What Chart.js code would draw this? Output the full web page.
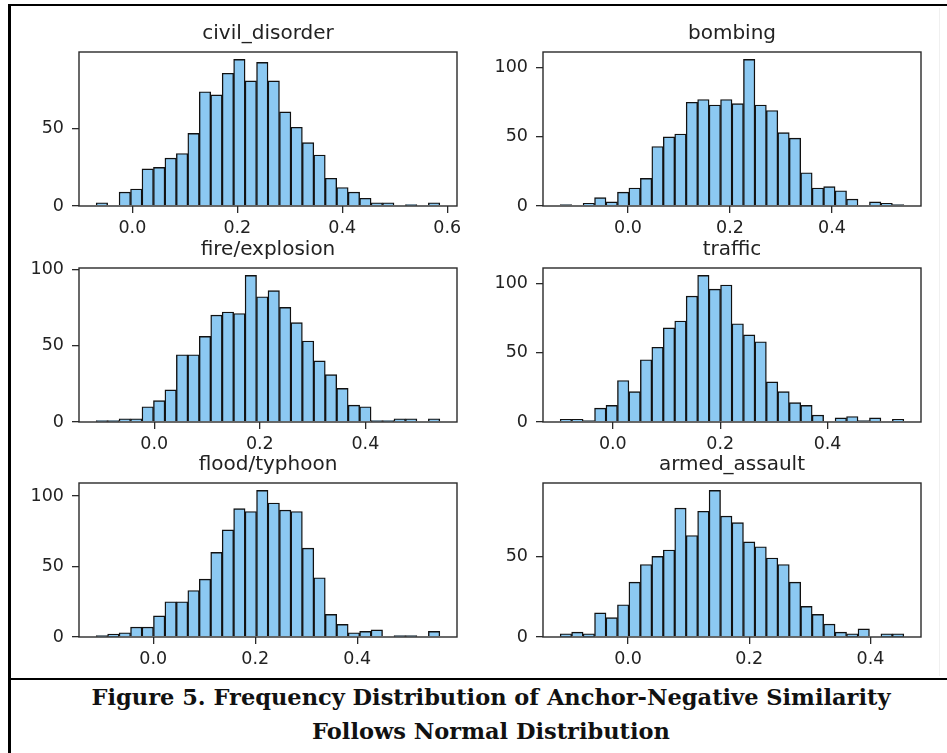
<!DOCTYPE html>
<html>
<head>
<meta charset="utf-8">
<script src="https://cdn.jsdelivr.net/npm/chart.js@4.4.1/dist/chart.umd.min.js"></script>
<style>
  body { margin: 0; background: #fff; width: 947px; height: 753px; overflow: hidden; position: relative; }
  canvas { position: absolute; }
  .rule { position: absolute; background: #000; }
  .caption {
    position: absolute; left: 0; width: 982px; text-align: center;
    font-family: "DejaVu Serif", "Liberation Serif", serif; font-weight: bold;
    font-size: 22.5px; color: #111; white-space: nowrap; line-height: 26px;
  }
</style>
</head>
<body>
<div class="rule" style="left:8px;top:4px;width:939px;height:2px"></div>
<div class="rule" style="left:8px;top:4px;width:2.5px;height:749px"></div>
<div class="rule" style="left:8px;top:678px;width:939px;height:2px"></div>
<div class="rule" style="left:939px;top:8px;width:1px;height:668px;background:#f0f0f0"></div>
<div class="caption" style="top:684px">Figure 5. Frequency Distribution of Anchor-Negative Similarity</div>
<div class="caption" style="top:718px">Follows Normal Distribution</div>

<script>
/* ── Data ──────────────────────────────────────────────────── */

const panelTitles = ["civil_disorder", "bombing", "fire/explosion", "traffic", "flood/typhoon", "armed_assault"];

// counts per bin, 30 bins each
const civilDisorder = [2, 0, 9, 11, 24, 25, 31, 34, 47, 74, 72, 86, 95, 81, 93, 81, 61, 51, 41, 33, 18, 12, 9, 5, 2, 2, 0, 1, 0, 2];
const bombing       = [1, 0, 2, 6, 3, 10, 13, 20, 43, 50, 52, 75, 77, 73, 77, 74, 106, 73, 69, 53, 49, 24, 13, 14, 11, 5, 0, 3, 2, 1];
const fireExplosion = [1, 1, 2, 2, 10, 14, 21, 44, 44, 56, 70, 72, 71, 96, 82, 86, 75, 65, 53, 40, 31, 22, 11, 10, 1, 1, 2, 2, 0, 2];
const traffic       = [2, 2, 1, 10, 12, 30, 22, 45, 54, 68, 73, 91, 106, 96, 99, 71, 63, 58, 29, 22, 14, 12, 5, 0, 3, 4, 1, 3, 0, 2];
const floodTyphoon  = [1, 2, 3, 7, 7, 15, 25, 25, 33, 41, 60, 76, 91, 89, 104, 95, 90, 89, 63, 42, 16, 9, 3, 4, 5, 0, 1, 1, 0, 4];
const armedAssault  = [2, 3, 2, 15, 12, 20, 34, 45, 50, 54, 80, 63, 78, 91, 75, 71, 59, 56, 49, 45, 34, 19, 14, 8, 3, 2, 5, 0, 2, 2];

// similarity range covered by the bins of each panel
const binLo = [-0.069, -0.133, -0.110, -0.098, -0.112, -0.112];
const binHi = [0.586, 0.541, 0.541, 0.542, 0.562, 0.455];

const xTicks = [0.0, 0.2, 0.4, 0.6];
const yTicks = [0, 50, 100];

const panelCounts = [civilDisorder, bombing, fireExplosion, traffic, floodTyphoon, armedAssault];

/* ── Layout ────────────────────────────────────────────────── */

const colLeft = [79, 543];
const rowTop  = [52, 267.5, 483];
const areaW = 378, areaH = 154;
const padL = 70, padT = 50, padR = 14, padB = 40;

const tickFont = { family: "DejaVu Sans", size: 17.5 };

const framePlugin = {
  id: "frame",
  afterDraw(chart) {
    const a = chart.chartArea, ctx = chart.ctx;
    ctx.save();
    ctx.strokeStyle = "#2a2a2a";
    ctx.lineWidth = 1.4;
    ctx.strokeRect(a.left, a.top, a.right - a.left, a.bottom - a.top);
    ctx.restore();
  }
};

function makePanel(i) {
  const counts = panelCounts[i];
  const lo = binLo[i], hi = binHi[i];
  const span = hi - lo;
  const binW = span / counts.length;
  const pts = counts.map((c, k) => ({ x: lo + (k + 0.5) * binW, y: c }));

  const cv = document.createElement("canvas");
  const w = padL + areaW + padR, h = padT + areaH + padB;
  cv.width = w; cv.height = h;
  cv.style.width = w + "px"; cv.style.height = h + "px";
  cv.style.left = (colLeft[i % 2] - padL) + "px";
  cv.style.top = (rowTop[Math.floor(i / 2)] - padT) + "px";
  document.body.appendChild(cv);

  const axisGrid = { display: true, offset: false, drawOnChartArea: false, drawTicks: true,
                     tickLength: 7, tickColor: "#2a2a2a", lineWidth: 1.3 };

  new Chart(cv, {
    type: "bar",
    data: {
      datasets: [{
        data: pts,
        backgroundColor: "#8cc9f2",
        borderColor: "#111",
        borderWidth: 1.4,
        categoryPercentage: 1,
        barPercentage: 1,
      }],
    },
    options: {
      responsive: false,
      devicePixelRatio: 1,
      animation: false,
      layout: { padding: { top: padT - 30, right: padR, left: 0, bottom: 0 } },
      plugins: {
        legend: { display: false },
        tooltip: { enabled: false },
        title: {
          display: true,
          fullSize: false,
          text: panelTitles[i],
          color: "#222",
          font: { family: "DejaVu Sans", size: 20, weight: "normal" },
          padding: { top: 0, bottom: 6 },
        },
      },
      scales: {
        x: {
          type: "linear",
          offset: false,
          bounds: "data",
          min: lo - 0.05 * span,
          max: hi + 0.05 * span,
          border: { display: false },
          grid: axisGrid,
          ticks: { color: "#222", font: tickFont, padding: 5, maxRotation: 0, autoSkip: false,
                   callback: v => v.toFixed(1) },
          afterBuildTicks: s => { s.ticks = xTicks.filter(v => v >= s.min && v <= s.max).map(v => ({ value: v })); },
          afterFit: s => { s.height = padB; },
        },
        y: {
          min: 0,
          max: Math.max(...counts) * 1.05,
          bounds: "data",
          border: { display: false },
          grid: axisGrid,
          ticks: { color: "#222", font: tickFont, padding: 8 },
          afterBuildTicks: s => { s.ticks = yTicks.filter(v => v <= s.max).map(v => ({ value: v })); },
          afterFit: s => { s.width = padL; },
        },
      },
    },
    plugins: [framePlugin],
  });
}

for (let i = 0; i < panelCounts.length; i++) makePanel(i);
</script>
</body>
</html>
